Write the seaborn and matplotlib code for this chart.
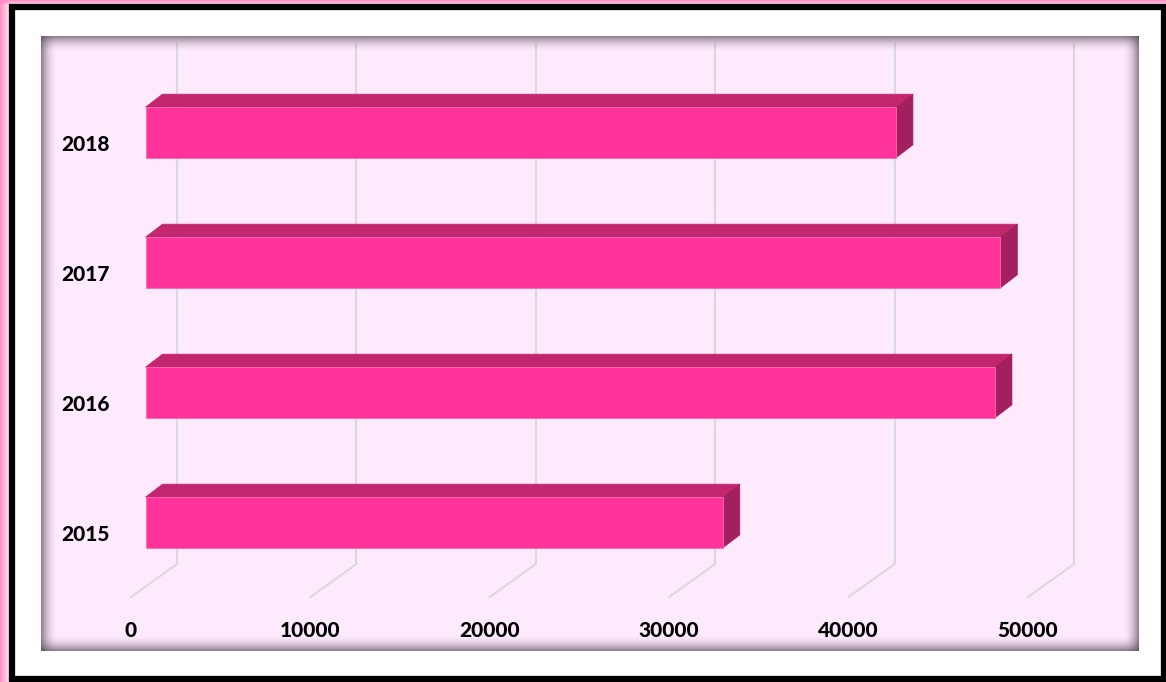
import matplotlib
matplotlib.use("Agg")
import matplotlib.pyplot as plt
import matplotlib.patches as mpatches
import matplotlib.transforms as mtrans
import numpy as np
import pandas as pd
import seaborn as sns

# ---- data ----
years = ["2015", "2016", "2017", "2018"]
values = [32180, 47350, 47650, 41830]
x_ticks = [0, 10000, 20000, 30000, 40000, 50000]
x_tick_labels = ["0", "10000", "20000", "30000", "40000", "50000"]

# ---- style ----
sns.set_theme(style="white")
plt.rcParams["font.family"] = ["Lato", "DejaVu Sans"]

FRONT = "#FF3399"
TOP = "#C2266F"
SIDE = "#A21F60"
BG = "#FDEAFD"
GRID = "#D9D9D9"

W, H = 1166, 682
fig = plt.figure(figsize=(W / 100, H / 100), dpi=100)
fig.patch.set_facecolor("white")

# pixel (top-left origin) -> figure transform
px = mtrans.Affine2D().scale(1 / W, -1 / H).translate(0, 1) + fig.transFigure

# outer pink glow (left & top)
for i in range(9):
    a = 0.95 * (1 - i / 12)
    fig.patches.append(mpatches.Rectangle((i, 0), 1, H, transform=px,
                                          facecolor="#FF8CC6", alpha=a, lw=0, zorder=0))
for i in range(4):
    a = 0.95 * (1 - i / 6)
    fig.patches.append(mpatches.Rectangle((0, i), W, 1, transform=px,
                                          facecolor="#FF8CC6", alpha=a, lw=0, zorder=0))
# black frame
fig.patches.append(mpatches.Rectangle((11.5, 7), 1152, 672, transform=px,
                                      facecolor="none", edgecolor="black", lw=4.5, zorder=1))

# ---- main axes (plot area) ----
L, T, R, B = 41, 36, 1139, 651
ax = fig.add_axes([L / W, (H - B) / H, (R - L) / W, (B - T) / H])
ax.set_facecolor(BG)

df = pd.DataFrame({"year": years, "value": values})
order = years[::-1]
sns.barplot(data=df, x="value", y="year", order=order, orient="h",
            color=FRONT, saturation=1, width=0.39, ax=ax, zorder=3,
            edgecolor="#FF66B3", linewidth=0.6)

# scale: 179.4 px per 10000, category spacing 130 px
pxx = 179.4 / 10000.0
xmin = -(145.5 - L) / pxx
xmax = xmin + (R - L) / pxx
ax.set_xlim(xmin, xmax)
ytop = -(132.5 - T) / 130.0
ybot = ytop + (B - T) / 130.0
ax.set_ylim(ybot, ytop)

def dx(p):
    return p / pxx

def dy(p):
    return p / 130.0

# 3D gridlines: back-plane vertical + diagonal floor lines
back_off = dx(177 - 145.5)
front_off = dx(131 - 145.5)
y_floor_back = ytop + dy(564 - T)
y_floor_front = ytop + dy(597 - T)
y_grid_top = ytop + dy(43 - T)
for v in x_ticks:
    ax.plot([v + back_off, v + back_off], [y_floor_back, y_grid_top],
            color=GRID, lw=1.5, zorder=1, solid_capstyle="butt")
    ax.plot([v + front_off, v + back_off], [y_floor_front, y_floor_back],
            color=GRID, lw=1.5, zorder=1)

# 3D faces for each bar
ddx, ddy = dx(17), -dy(13)
for p in list(ax.patches):
    x0, y0, w, h = p.get_x(), p.get_y(), p.get_width(), p.get_height()
    ytp = min(y0, y0 + h)
    ybt = max(y0, y0 + h)
    x1 = x0 + w
    top = mpatches.Polygon([(x0, ytp), (x1, ytp), (x1 + ddx, ytp + ddy), (x0 + ddx, ytp + ddy)],
                           closed=True, facecolor=TOP, edgecolor=TOP, lw=0.5, zorder=2.5)
    side = mpatches.Polygon([(x1, ytp), (x1, ybt), (x1 + ddx, ybt + ddy), (x1 + ddx, ytp + ddy)],
                            closed=True, facecolor=SIDE, edgecolor=SIDE, lw=0.5, zorder=2.5)
    ax.add_patch(top)
    ax.add_patch(side)

# tick labels
ax.set_xticks([v + front_off for v in x_ticks], labels=x_tick_labels)
ax.set_yticks(np.arange(len(order)) + dy(10.5), labels=order)
ax.tick_params(axis="x", length=0, pad=-21.5, labelsize=15, labelcolor="black")
ax.tick_params(axis="y", length=0, pad=-49.5, labelsize=15, labelcolor="black")
for lab in ax.get_xticklabels() + ax.get_yticklabels():
    lab.set_fontweight("black")
ax.set_xlabel("")
ax.set_ylabel("")
for s in ax.spines.values():
    s.set_visible(False)

# inner shadow of the plot area
N = 16
for i in range(N):
    a = 0.6 * (1 - i / N) ** 2
    c = "#4A3A4A"
    fig.patches.append(mpatches.Rectangle((L + i, T), 1, B - T, transform=px,
                                          facecolor=c, alpha=a, lw=0, zorder=20))
    fig.patches.append(mpatches.Rectangle((R - 1 - i, T), 1, B - T, transform=px,
                                          facecolor=c, alpha=a, lw=0, zorder=20))
    fig.patches.append(mpatches.Rectangle((L, T + i), R - L, 1, transform=px,
                                          facecolor=c, alpha=a, lw=0, zorder=20))
    fig.patches.append(mpatches.Rectangle((L, B - 1 - i), R - L, 1, transform=px,
                                          facecolor=c, alpha=a, lw=0, zorder=20))

fig.savefig("out.png", dpi=100)
